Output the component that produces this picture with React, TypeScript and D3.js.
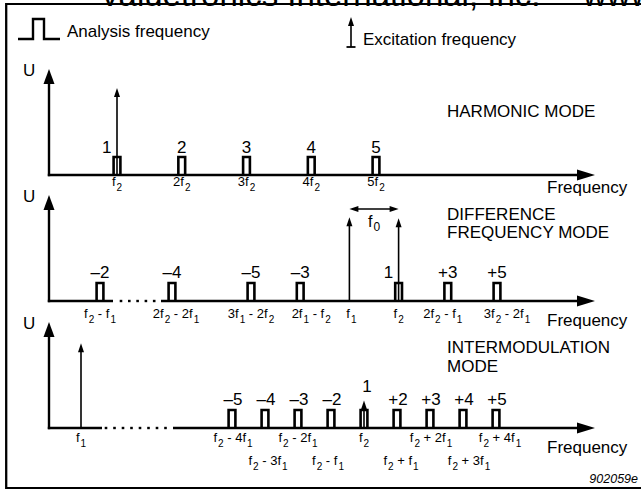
import React from "react";
import * as d3 from "d3";

// ---------------- DATA ----------------
// Harmonic mode (multiples of f2)
const harmonicOrders = [1, 2, 3, 4, 5];
const harmonicOrderLabels = ["1", "2", "3", "4", "5"];
const harmonicTickLabels = ["f_2", "2f_2", "3f_2", "4f_2", "5f_2"];
const harmonicExcitation = [1];
const harmonicExcitationAmp = [0.82];

// Difference frequency mode (schematic units: f1 = 10, f2 = 11)
const diffPulseFreqs = [1, 2, 8, 9, 11, 12, 13];
const diffOrderLabels = ["–2", "–4", "–5", "–3", "1", "+3", "+5"];
const diffTickFreqs = [1, 2, 8, 9, 10, 11, 12, 13];
const diffTickLabels = ["f_2 - f_1", "2f_2 - 2f_1", "3f_1 - 2f_2", "2f_1 - f_2", "f_1", "f_2", "2f_2 - f_1", "3f_2 - 2f_1"];
const diffExcitation = [10, 11];
const diffExcitationAmp = [0.79, 0.78];

// Intermodulation mode (schematic units: f1 = 1, f2 = 12)
const imPulseFreqs = [8, 9, 10, 11, 12, 13, 14, 15, 16];
const imOrderLabels = ["–5", "–4", "–3", "–2", "1", "+2", "+3", "+4", "+5"];
const imTickFreqsRow1 = [1, 8, 10, 12, 14, 16];
const imTickLabelsRow1 = ["f_1", "f_2 - 4f_1", "f_2 - 2f_1", "f_2", "f_2 + 2f_1", "f_2 + 4f_1"];
const imTickFreqsRow2 = [9, 11, 13, 15];
const imTickLabelsRow2 = ["f_2 - 3f_1", "f_2 - f_1", "f_2 + f_1", "f_2 + 3f_1"];
const imExcitation = [1, 12];
const imExcitationAmp = [0.8, 0.26];

// ---------------- LAYOUT ----------------
const W = 641;
const H = 490;
const FONT = "'Liberation Sans', Arial, Helvetica, sans-serif";
const X0 = 49;
const XEND = 595;
const AXIS_H = 106;
const PULSE_H = 18;
const PULSE_HW = 3.4;

const xH = d3.scaleLinear().domain([1, 5]).range([117, 376]);
const xD = d3.scaleLinear().domain([1, 2, 8, 13]).range([100, 172, 251, 497]);
const xI = d3.scaleLinear().domain([1, 8, 16]).range([81, 232, 496]);

const diffTickDx = [0, 4, 0, 11, 2, 0, -5, 10];
const imRow1Dx = [0, 1, 0, 0, 1, 4];
const imRow2Dx = [3, -3, 4, 6];

function Label({ x, y, text, size = 13, sub = 10, shift = 5, anchor = "middle", subDx = 1 }: any) {
  const tokens = text.split(/_(\d)/);
  return (
    <text x={x} y={y} fontSize={size} textAnchor={anchor} fontFamily={FONT} fill="#000">
      {tokens.map((t: string, i: number) => {
        if (i % 2 === 1)
          return (
            <tspan key={i} dy={shift} dx={subDx} fontSize={sub}>
              {t}
            </tspan>
          );
        if (i === 0) return <tspan key={i}>{t}</tspan>;
        if (t === "") return null;
        return (
          <tspan key={i} dy={-shift}>
            {t}
          </tspan>
        );
      })}
    </text>
  );
}

function Pulse({ x, base }: { x: number; base: number }) {
  const p = d3.path();
  p.moveTo(x - PULSE_HW, base);
  p.lineTo(x - PULSE_HW, base - PULSE_H);
  p.lineTo(x + PULSE_HW, base - PULSE_H);
  p.lineTo(x + PULSE_HW, base);
  return <path d={p.toString()} fill="none" stroke="#000" strokeWidth={2.6} />;
}

function UpArrow({ x, y0, y1, len = 9, hw = 3, sw = 1.6 }: any) {
  return (
    <g>
      <line x1={x} x2={x} y1={y0} y2={y1 + len - 1} stroke="#000" strokeWidth={sw} />
      <path d={`M${x},${y1} L${x - hw},${y1 + len} L${x + hw},${y1 + len} Z`} fill="#000" />
    </g>
  );
}

function Axes({ axisY, dots, solidEnd, solidStart }: any) {
  const yTop = axisY - AXIS_H;
  return (
    <g>
      <line x1={X0} x2={X0} y1={axisY + 1.2} y2={yTop + 12} stroke="#000" strokeWidth={2.4} />
      <path d={`M${X0},${yTop} L${X0 - 5.5},${yTop + 15} L${X0 + 5.5},${yTop + 15} Z`} fill="#000" />
      {dots ? (
        <>
          <line x1={X0 - 1.2} x2={solidEnd} y1={axisY} y2={axisY} stroke="#000" strokeWidth={2.4} />
          {dots.map((d: number, i: number) => (
            <rect key={i} x={d - 1.3} y={axisY - 1.2} width={2.6} height={2.4} fill="#000" />
          ))}
          <line x1={solidStart} x2={XEND - 14} y1={axisY} y2={axisY} stroke="#000" strokeWidth={2.4} />
        </>
      ) : (
        <line x1={X0 - 1.2} x2={XEND - 14} y1={axisY} y2={axisY} stroke="#000" strokeWidth={2.4} />
      )}
      <path d={`M${XEND},${axisY} L${XEND - 18},${axisY - 5.5} L${XEND - 18},${axisY + 5.5} Z`} fill="#000" />
      <text x={23} y={yTop + 7} fontSize={17} fontFamily={FONT}>
        U
      </text>
    </g>
  );
}

export default function App() {
  // Panel 1
  const a1 = 175;
  const y1 = d3.scaleLinear().domain([0, 1]).range([a1, a1 - AXIS_H]);
  // Panel 2
  const a2 = 301;
  const y2 = d3.scaleLinear().domain([0, 1]).range([a2, a2 - AXIS_H]);
  // Panel 3
  const a3 = 428;
  const y3 = d3.scaleLinear().domain([0, 1]).range([a3, a3 - AXIS_H]);

  const dots2 = d3.range(5).map((i) => 121 + i * 8.3);
  const dots3 = d3.range(8).map((i) => 106 + i * 8.5);

  const f0a = xD(diffExcitation[0]);
  const f0b = xD(diffExcitation[1]);
  const f0y = 209;

  return (
    <svg width={W} height={H} style={{ position: "absolute", left: 0, top: 0, background: "#fff" }}>
      <rect x={0} y={0} width={W} height={H} fill="#fff" />
      {/* Header (clipped title) */}
      <text x={99} y={6} fontSize={33} fontFamily={FONT}>
        Valuetronics International, Inc.
      </text>
      <text x={583} y={6} fontSize={33} fontFamily={FONT}>
        www.valuetronics.com
      </text>
      {/* Border */}
      <line x1={6.2} x2={W} y1={4} y2={4} stroke="#000" strokeWidth={2.2} />
      <line x1={6.2} x2={6.2} y1={3} y2={489} stroke="#000" strokeWidth={2.3} />
      <line x1={6.2} x2={W} y1={488} y2={488} stroke="#000" strokeWidth={2.2} />

      {/* Legend */}
      <path d="M18,39 H33 V19 H44 V39 H60" fill="none" stroke="#000" strokeWidth={2.4} />
      <text x={67} y={37} fontSize={17} fontFamily={FONT}>
        Analysis frequency
      </text>
      <UpArrow x={351} y0={47} y1={17} />
      <line x1={346.5} x2={355.5} y1={47} y2={47} stroke="#000" strokeWidth={1.8} />
      <text x={363} y={45} fontSize={17} fontFamily={FONT}>
        Excitation frequency
      </text>

      {/* Panel 1: harmonic */}
      <Axes axisY={a1} />
      {harmonicOrders.map((h, i) => (
        <Pulse key={i} x={xH(h)} base={a1} />
      ))}
      {harmonicExcitation.map((h, i) => (
        <UpArrow key={i} x={xH(h)} y0={a1} y1={y1(harmonicExcitationAmp[i])} />
      ))}
      {harmonicOrders.map((h, i) => (
        <text
          key={i}
          x={i === 0 ? xH(h) - 5.5 : xH(h)}
          y={152.5}
          fontSize={17}
          textAnchor={i === 0 ? "end" : "middle"}
          fontFamily={FONT}
        >
          {harmonicOrderLabels[i]}
        </text>
      ))}
      {harmonicOrders.map((h, i) => (
        <Label key={i} x={xH(h)} y={186} text={harmonicTickLabels[i]} />
      ))}
      <text x={447} y={117} fontSize={17} fontFamily={FONT}>
        HARMONIC MODE
      </text>
      <text x={547} y={193} fontSize={17} fontFamily={FONT}>
        Frequency
      </text>

      {/* Panel 2: difference frequency */}
      <Axes axisY={a2} dots={dots2} solidEnd={113} solidStart={161} />
      {diffPulseFreqs.map((f, i) => (
        <Pulse key={i} x={xD(f)} base={a2} />
      ))}
      {diffExcitation.map((f, i) => (
        <UpArrow key={i} x={xD(f)} y0={a2} y1={y2(diffExcitationAmp[i])} />
      ))}
      {diffPulseFreqs.map((f, i) => {
        const isOne = diffOrderLabels[i] === "1";
        return (
          <text
            key={i}
            x={isOne ? xD(f) - 5.5 : xD(f)}
            y={278}
            fontSize={17}
            textAnchor={isOne ? "end" : "middle"}
            fontFamily={FONT}
          >
            {diffOrderLabels[i]}
          </text>
        );
      })}
      {diffTickFreqs.map((f, i) => (
        <Label key={i} x={xD(f) + diffTickDx[i]} y={318} text={diffTickLabels[i]} />
      ))}
      {/* f0 double arrow */}
      <line x1={f0a + 7} x2={f0b - 7} y1={f0y} y2={f0y} stroke="#000" strokeWidth={1.6} />
      <path d={`M${f0a},${f0y} L${f0a + 9},${f0y - 3} L${f0a + 9},${f0y + 3} Z`} fill="#000" />
      <path d={`M${f0b},${f0y} L${f0b - 9},${f0y - 3} L${f0b - 9},${f0y + 3} Z`} fill="#000" />
      <Label x={(f0a + f0b) / 2} y={227} text="f_0" size={16} sub={12} shift={4} />
      <text x={447} y={220} fontSize={17} fontFamily={FONT}>
        DIFFERENCE
      </text>
      <text x={447} y={238} fontSize={17} fontFamily={FONT}>
        FREQUENCY MODE
      </text>
      <text x={547} y={326} fontSize={17} fontFamily={FONT}>
        Frequency
      </text>

      {/* Panel 3: intermodulation */}
      <Axes axisY={a3} dots={dots3} solidEnd={102} solidStart={173} />
      {imPulseFreqs.map((f, i) => (
        <Pulse key={i} x={xI(f)} base={a3} />
      ))}
      {imExcitation.map((f, i) => (
        <UpArrow key={i} x={xI(f)} y0={a3} y1={y3(imExcitationAmp[i])} />
      ))}
      {imPulseFreqs.map((f, i) => {
        const isOne = imOrderLabels[i] === "1";
        return (
          <text
            key={i}
            x={isOne ? xI(f) + 3 : xI(f) + 1}
            y={isOne ? 392 : 405}
            fontSize={17}
            textAnchor="middle"
            fontFamily={FONT}
          >
            {imOrderLabels[i]}
          </text>
        );
      })}
      {imTickFreqsRow1.map((f, i) => (
        <Label key={i} x={xI(f) + imRow1Dx[i]} y={442} text={imTickLabelsRow1[i]} />
      ))}
      {imTickFreqsRow2.map((f, i) => (
        <Label key={i} x={xI(f) + imRow2Dx[i]} y={465} text={imTickLabelsRow2[i]} />
      ))}
      <text x={447} y={353} fontSize={17} fontFamily={FONT}>
        INTERMODULATION
      </text>
      <text x={447} y={372} fontSize={17} fontFamily={FONT}>
        MODE
      </text>
      <text x={547} y={453} fontSize={17} fontFamily={FONT}>
        Frequency
      </text>
      <text x={638} y={483} fontSize={12.5} fontStyle="italic" textAnchor="end" fontFamily={FONT}>
        902059e
      </text>
    </svg>
  );
}
